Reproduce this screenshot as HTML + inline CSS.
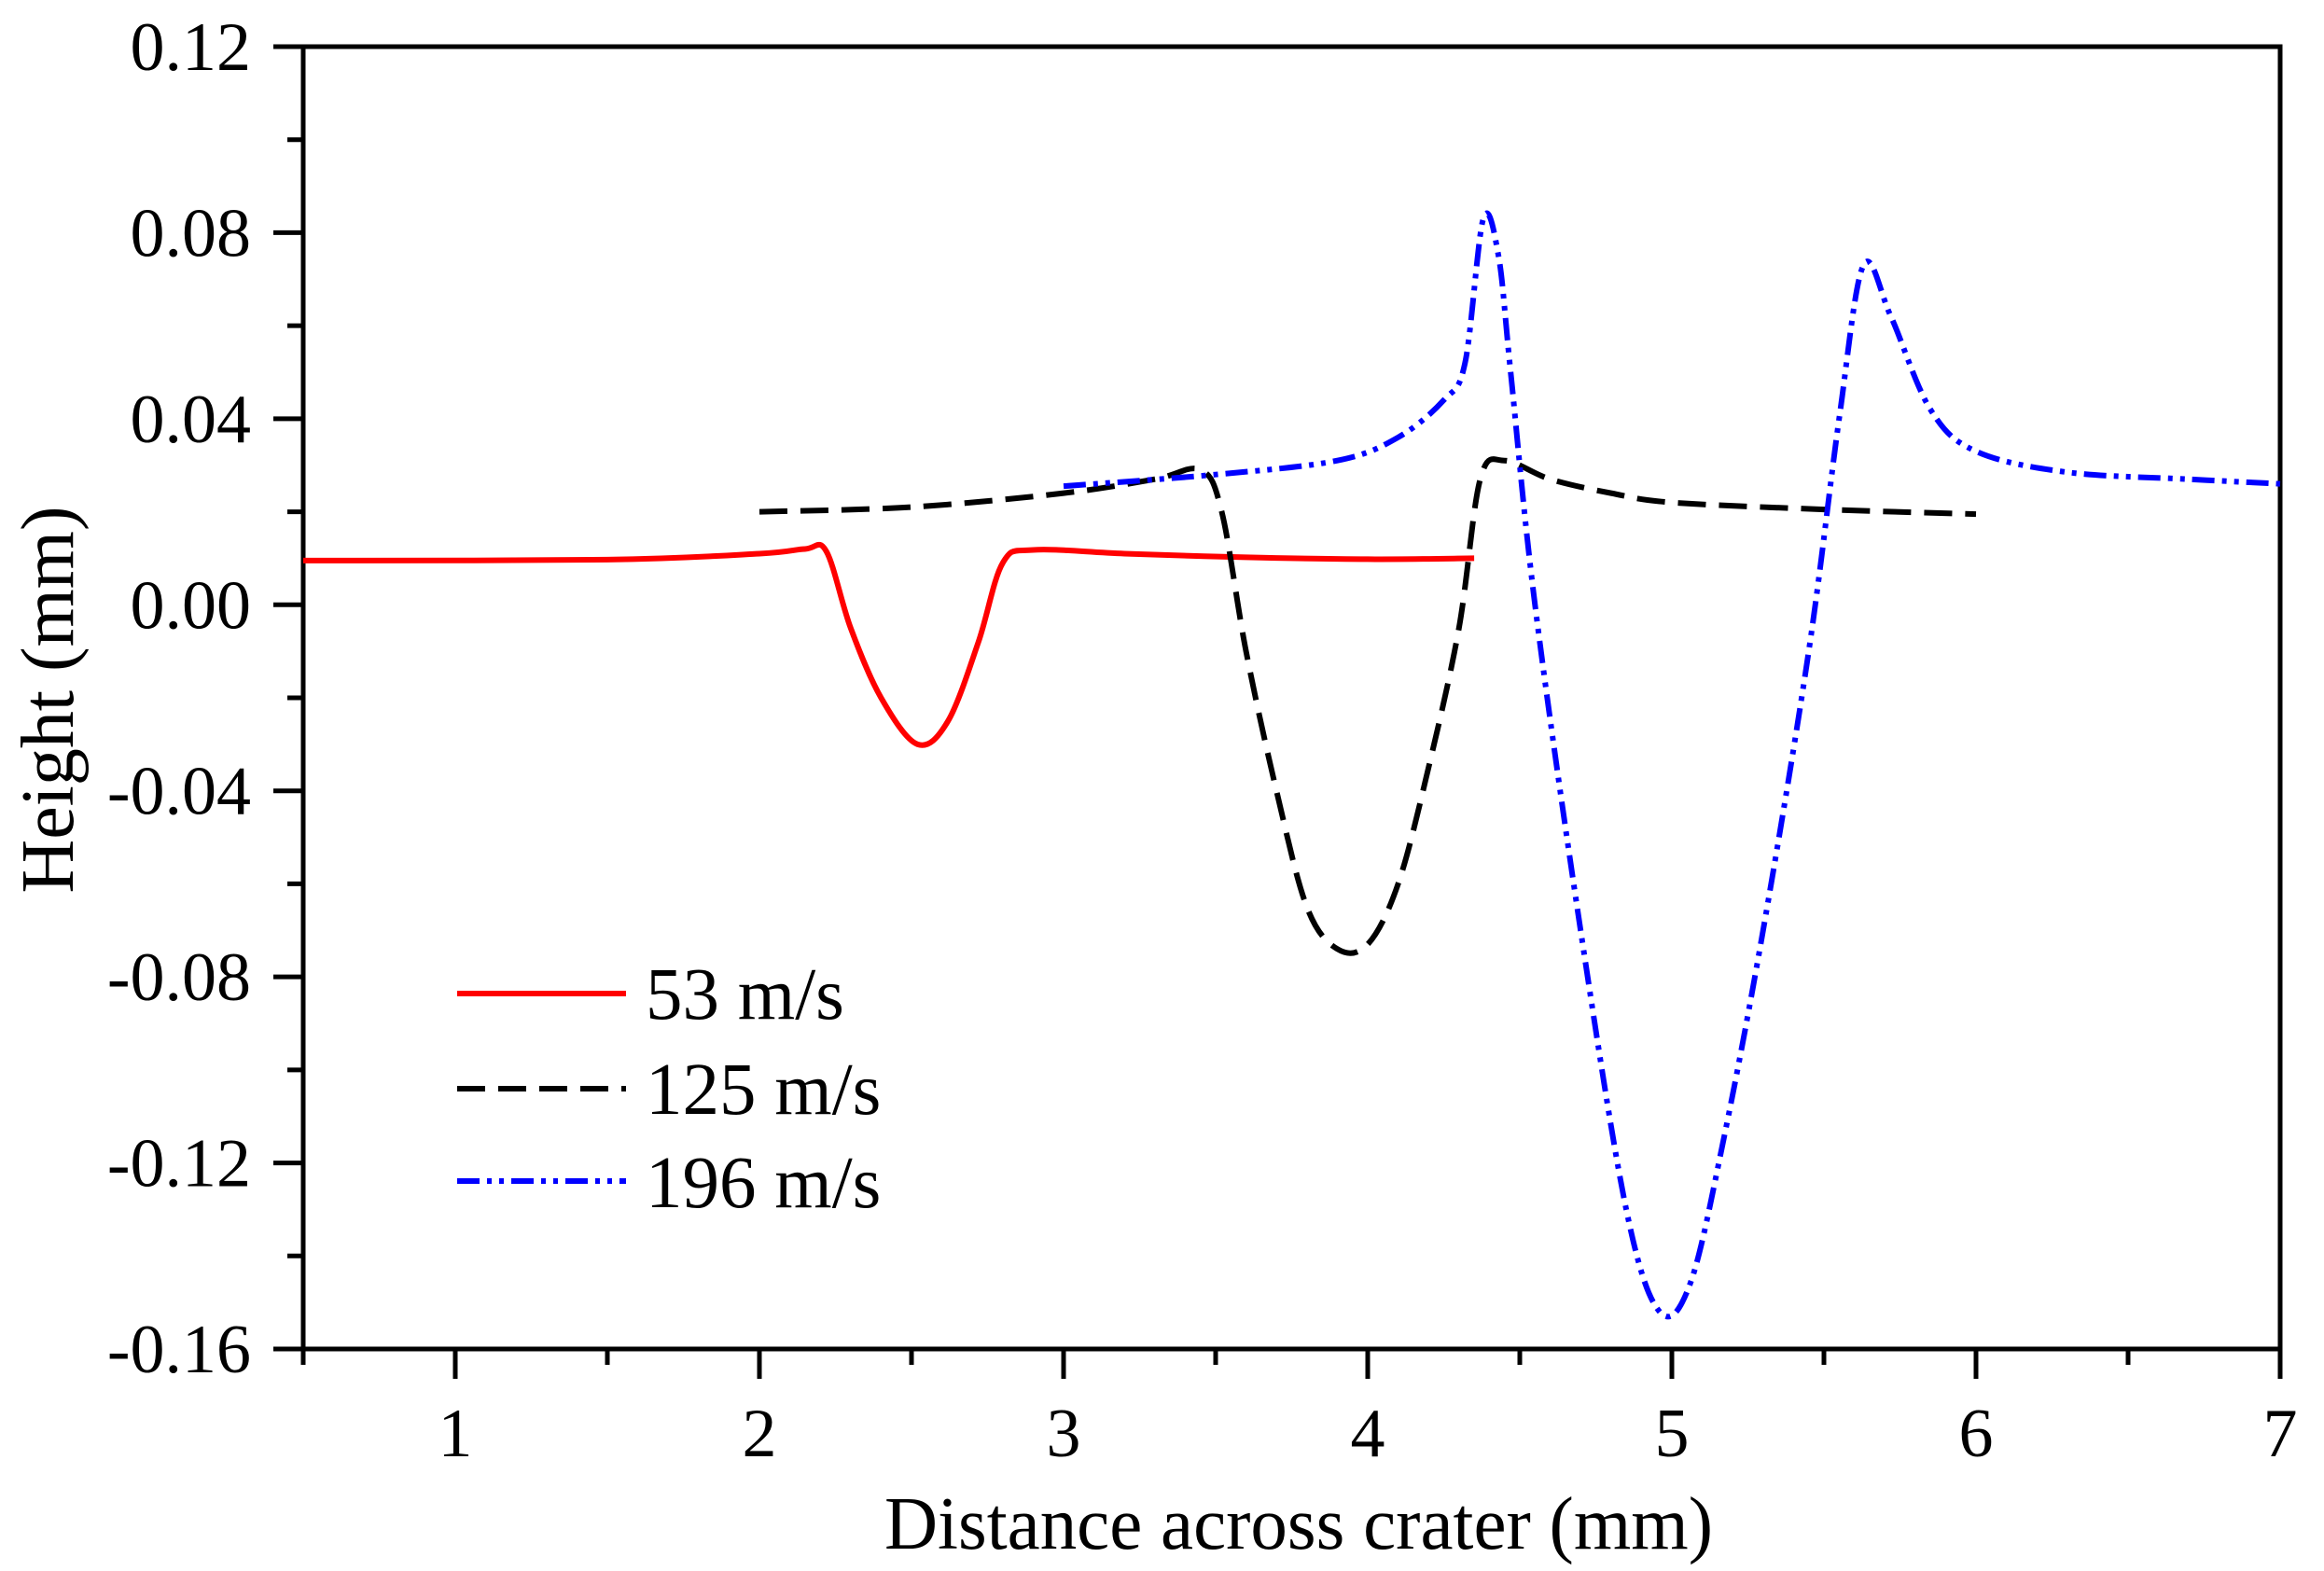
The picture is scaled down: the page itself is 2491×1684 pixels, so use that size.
<!DOCTYPE html>
<html><head><meta charset="utf-8"><style>
html,body{margin:0;padding:0;background:#fff;}
svg{display:block;font-family:"Liberation Serif",serif;}
</style></head><body>
<svg id="s" width="2491" height="1684" viewBox="0 0 2491 1684" xmlns="http://www.w3.org/2000/svg">
<rect width="2491" height="1684" fill="#fff"/>
<g id="ax" stroke="#000" stroke-width="5" fill="none"></g>
<g id="lab" font-size="74" fill="#000"></g>
<g id="data" fill="none"></g>
<text x="1392" y="1660" font-size="80" text-anchor="middle" textLength="888" lengthAdjust="spacingAndGlyphs">Distance across crater (mm)</text>
<text transform="translate(78,750) rotate(-90)" font-size="80" text-anchor="middle" textLength="415" lengthAdjust="spacingAndGlyphs">Height (mm)</text>
<g stroke-width="6">
<line x1="490" y1="1065" x2="671" y2="1065" stroke="#ff0000"/>
<line x1="490" y1="1167" x2="671" y2="1167" stroke="#000" stroke-dasharray="30,14"/>
<line x1="490" y1="1266" x2="671" y2="1266" stroke="#0000ff" stroke-dasharray="24,8,5,8,5,8"/>
</g>
<g font-size="79"><text x="692" y="1092">53 m/s</text><text x="692" y="1194">125 m/s</text><text x="692" y="1294">196 m/s</text></g>
</svg>
<script>
var L=325,R=2444,T=50,B=1446;
function X(x){return L+(x-0.5)*(R-L)/6.5;}
function Y(y){return T+(0.12-y)*(B-T)/0.28;}
var ns="http://www.w3.org/2000/svg";
function el(p,t,a,txt){var e=document.createElementNS(ns,t);for(var k in a)e.setAttribute(k,a[k]);if(txt)e.textContent=txt;document.getElementById(p).appendChild(e);return e;}
el("ax","rect",{x:L,y:T,width:R-L,height:B-T});
for(var i=0;i<=14;i++){var v=0.12-i*0.02;var y=Y(v);var maj=i%2==0;
 el("ax","line",{x1:L-(maj?32:17),y1:y,x2:L,y2:y});
 if(maj)el("lab","text",{x:L-56,y:y+25,"text-anchor":"end"},v.toFixed(2).replace("-0.00","0.00"));}
for(var x=0.5;x<=7.001;x+=0.5){var px=X(x);var maj=Math.abs(x-Math.round(x))<1e-6;
 el("ax","line",{x1:px,y1:B,x2:px,y2:B+(maj?32:17)});
 if(maj)el("lab","text",{x:px,y:B+115,"text-anchor":"middle"},String(Math.round(x)));}
function cr(pts){
 var P=pts.map(function(p){return [X(p[0]),Y(p[1])];});
 var d="M"+P[0][0]+","+P[0][1];
 for(var i=0;i<P.length-1;i++){var p0=P[i-1]||P[i],p1=P[i],p2=P[i+1],p3=P[i+2]||p2;
  d+=" C"+(p1[0]+(p2[0]-p0[0])/6)+","+(p1[1]+(p2[1]-p0[1])/6)+" "+(p2[0]-(p3[0]-p1[0])/6)+","+(p2[1]-(p3[1]-p1[1])/6)+" "+p2[0]+","+p2[1];}
 return d;}
var red=[[0.5,0.0095],[1.5,0.0097],[2.0,0.011],[2.15,0.012],[2.22,0.0115],[2.3,-0.005],[2.4,-0.02],[2.52,-0.030],[2.62,-0.025],[2.72,-0.008],[2.8,0.009],[2.9,0.0118],[3.2,0.011],[3.6,0.0102],[4.0,0.0098],[4.35,0.01]];
var blk=[[2.0,0.020],[2.5,0.021],[3.0,0.024],[3.3,0.027],[3.45,0.029],[3.52,0.02],[3.6,-0.01],[3.7,-0.04],[3.8,-0.065],[3.9,-0.074],[4.0,-0.073],[4.1,-0.06],[4.2,-0.035],[4.3,-0.005],[4.37,0.027],[4.45,0.031],[4.6,0.027],[4.8,0.024],[5.0,0.022],[5.5,0.0205],[6.0,0.0195]];
var blu=[[3.0,0.0255],[3.5,0.028],[3.9,0.031],[4.1,0.036],[4.25,0.044],[4.32,0.052],[4.38,0.083],[4.43,0.075],[4.47,0.05],[4.55,0.0],[4.7,-0.07],[4.85,-0.13],[4.96,-0.152],[5.06,-0.146],[5.17,-0.115],[5.3,-0.07],[5.45,-0.01],[5.55,0.04],[5.63,0.073],[5.72,0.062],[5.85,0.042],[6.0,0.033],[6.3,0.0285],[6.7,0.027],[7.0,0.026]];
el("data","path",{d:cr(red),stroke:"#ff0000","stroke-width":6});
el("data","path",{d:cr(blk),stroke:"#000","stroke-width":6,"stroke-dasharray":"30,14"});
el("data","path",{d:cr(blu),stroke:"#0000ff","stroke-width":6,"stroke-dasharray":"24,8,5,8,5,8"});
</script>
</body></html>
